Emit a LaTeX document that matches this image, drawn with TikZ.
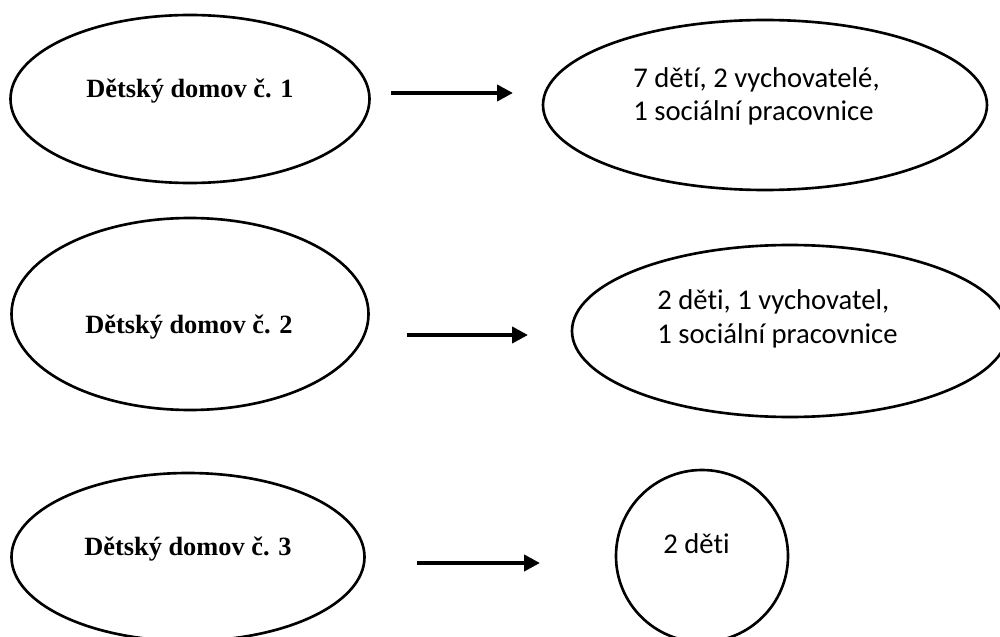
\documentclass[tikz,border=0pt]{standalone}
\usepackage{fontspec}
\setmainfont{Liberation Serif}
\newfontfamily\calibri[Ligatures=NoCommon]{Carlito}
\usetikzlibrary{shapes.geometric,arrows.meta}

\begin{document}
\begin{tikzpicture}[scale=1,
  dom/.style={ellipse,draw=black,line width=1.5pt,inner sep=0pt,outer sep=0pt},
  domtxt/.style={anchor=base,inner sep=0pt,font=\fontsize{15}{18}\selectfont\bfseries},
  lidi/.style={anchor=base west,inner sep=0pt,align=left,font=\calibri\fontsize{16.3}{18.8}\selectfont},
  sipka/.style={-{Triangle[length=0.32cm,width=0.32cm]},line width=2.4pt}]
\useasboundingbox (0,0) rectangle (20,12.72);

% detske domovy
\node[dom,minimum width=7.18cm,minimum height=3.36cm] (D1) at (3.80,10.74) {};
\node[dom,minimum width=7.14cm,minimum height=3.84cm] (D2) at (3.80,6.44) {};
\node[dom,minimum width=7.06cm,minimum height=3.36cm] (D3) at (3.76,1.58) {};
\node[domtxt] (T1) at (3.80,10.76) {Dětský domov č. 1};
\node[domtxt] (T2) at (3.78,6.06) {Dětský domov č. 2};
\node[domtxt] (T3) at (3.76,1.62) {Dětský domov č. 3};

% kdo tam je
\node[dom,minimum width=8.88cm,minimum height=3.40cm] (S1) at (15.30,10.62) {};
\node[dom,minimum width=8.72cm,minimum height=3.44cm] (S2) at (15.80,6.10) {};
\node[dom,circle,minimum size=3.44cm] (S3) at (14.04,1.60) {};
\node[lidi] (L1) at (12.66,10.30) {7 dětí, 2 vychovatelé,\\1 sociální pracovnice};
\node[lidi] (L2) at (13.14,5.86) {2 děti, 1 vychovatel,\\1 sociální pracovnice};
\node[lidi] (L3) at (13.26,1.66) {2 děti};

% sipky
\coordinate (A1) at (7.82,10.86);
\coordinate (B1) at (10.26,10.86);
\coordinate (A2) at (8.14,6.02);
\coordinate (B2) at (10.56,6.02);
\coordinate (A3) at (8.34,1.46);
\coordinate (B3) at (10.80,1.46);
\draw[sipka] (A1)--(B1);
\draw[sipka] (A2)--(B2);
\draw[sipka] (A3)--(B3);

\end{tikzpicture}
\end{document}
